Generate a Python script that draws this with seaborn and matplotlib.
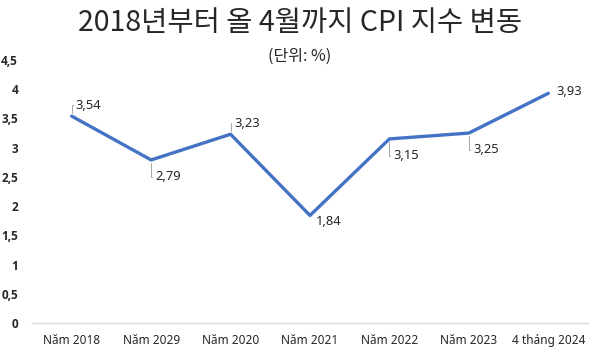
import pandas as pd
import seaborn as sns
import matplotlib.pyplot as plt

periods = ['Năm 2018', 'Năm 2029', 'Năm 2020', 'Năm 2021', 'Năm 2022', 'Năm 2023', '4 tháng 2024']
cpi = [3.54, 2.79, 3.23, 1.84, 3.15, 3.25, 3.93]
yticks = [0, 0.5, 1, 1.5, 2, 2.5, 3, 3.5, 4, 4.5]
ytick_labels = ['0', '0,5', '1', '1,5', '2', '2,5', '3', '3,5', '4', '4,5']
title = '2018년부터 올 4월까지 CPI 지수 변동'
subtitle = '(단위: %)'

# label offsets in points (dx, dy) relative to each point
label_offsets = [(3, 8), (3, -12), (3, 8), (4, -4), (3, -12), (3, -12), (6, 1)]

sns.set_theme(style='white')
plt.rcParams['font.family'] = ['Noto Sans', 'DejaVu Sans']

df = pd.DataFrame({'period': periods, 'cpi': cpi})

fig = plt.figure(figsize=(6, 3.52), dpi=100)
ax = fig.add_axes([0.0533, 0.0824, 0.9267, 0.7471])
sns.lineplot(data=df, x='period', y='cpi', sort=False, color='#4472C4', linewidth=2.4, ax=ax)

ax.set_xlim(-0.5, 6.5)
ax.set_ylim(0, 4.5)
ax.set_yticks(yticks)
ax.set_yticklabels(ytick_labels, fontsize=8.5)
for t in ax.get_yticklabels():
    t.set_family(['Open Sans', 'DejaVu Sans'])
    t.set_fontweight('bold')
ax.tick_params(axis='y', length=0, pad=10)
ax.tick_params(axis='x', length=0, pad=8, labelsize=8.5)
ax.set_xlabel('')
ax.set_ylabel('')
for s in ['top', 'right', 'left']:
    ax.spines[s].set_visible(False)
ax.spines['bottom'].set_color('#d9d9d9')
ax.spines['bottom'].set_linewidth(1)

for i, (v, (dx, dy)) in enumerate(zip(cpi, label_offsets)):
    txt = f'{v:.2f}'.replace('.', ',')
    if i in (3, len(cpi) - 1):
        ax.annotate(txt, (i, v), xytext=(dx, dy), textcoords='offset points',
                    ha='left', va='center', fontsize=9.3)
    else:
        ax.annotate(txt, (i, v), xytext=(dx, dy), textcoords='offset points',
                    ha='left', va='center', fontsize=9.3,
                    arrowprops=dict(arrowstyle='-', color='#a6a6a6', lw=0.7,
                                    shrinkA=0, shrinkB=2,
                                    connectionstyle='angle,angleA=0,angleB=90,rad=0'))

fig.text(0.5, 0.935, title, ha='center', va='center', fontsize=20.5,
         family=['Noto Sans CJK KR', 'DejaVu Sans'])
fig.text(0.5, 0.84, subtitle, ha='center', va='center', fontsize=11.5,
         family=['Noto Sans CJK KR', 'DejaVu Sans'])

fig.savefig('out.png', dpi=100)
